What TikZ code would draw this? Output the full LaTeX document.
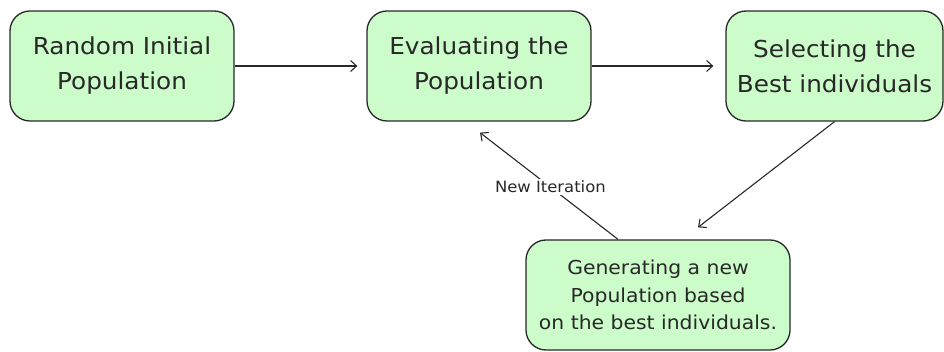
\documentclass[tikz,border=0pt]{standalone}
\usepackage{fontspec}
\setmainfont{DejaVu Sans}[FakeStretch=1.06]
\usetikzlibrary{arrows.meta,calc}
\definecolor{boxfill}{RGB}{204,252,202}
\definecolor{ink}{RGB}{40,40,40}
\begin{document}
\begin{tikzpicture}[x=1pt,y=-1pt,
  stagebox/.style={draw=ink, line width=1.3pt, fill=boxfill, rounded corners=20pt,
    minimum height=110pt, align=center, text=ink, inner sep=0pt,
    font=\fontsize{23.3}{35}\selectfont},
  flow/.style={draw=ink, line width=1.1pt, -{Straight Barb[length=6pt,width=11pt]}},
  tag/.style={fill=white, text=ink, inner sep=2pt, font=\fontsize{15.5}{18}\selectfont}]
  \useasboundingbox (0,0) rectangle (944,352);

  \node[stagebox, minimum width=224pt] (init) at (122,66) {Random Initial\\Population};
  \node[stagebox, minimum width=224pt] (eval) at (479,66) {Evaluating the\\Population};
  \node[stagebox, minimum width=217pt] (select) at (834.5,66) {Selecting the\\Best individuals};
  \node[stagebox, minimum width=264pt, font=\fontsize{19.2}{27.5}\selectfont] (gen) at (658,295)
    {Generating a new\\Population based\\on the best individuals.};

  \coordinate (genin) at ($(gen.north)+(40,-12)$);
  \coordinate (genout) at ($(gen.north)+(-40,0)$);
  \coordinate (evalin) at ($(eval.south)+(1,11)$);

  \draw[flow, shorten >=9pt] (init.east) -- (eval.west);
  \draw[flow, shorten >=12pt] (eval.east) -- (select.west);
  \draw[flow] (select.south) -- (genin);
  \draw[flow] (genout) -- node[tag, pos=0.49] {New Iteration} (evalin);
\end{tikzpicture}
\end{document}
